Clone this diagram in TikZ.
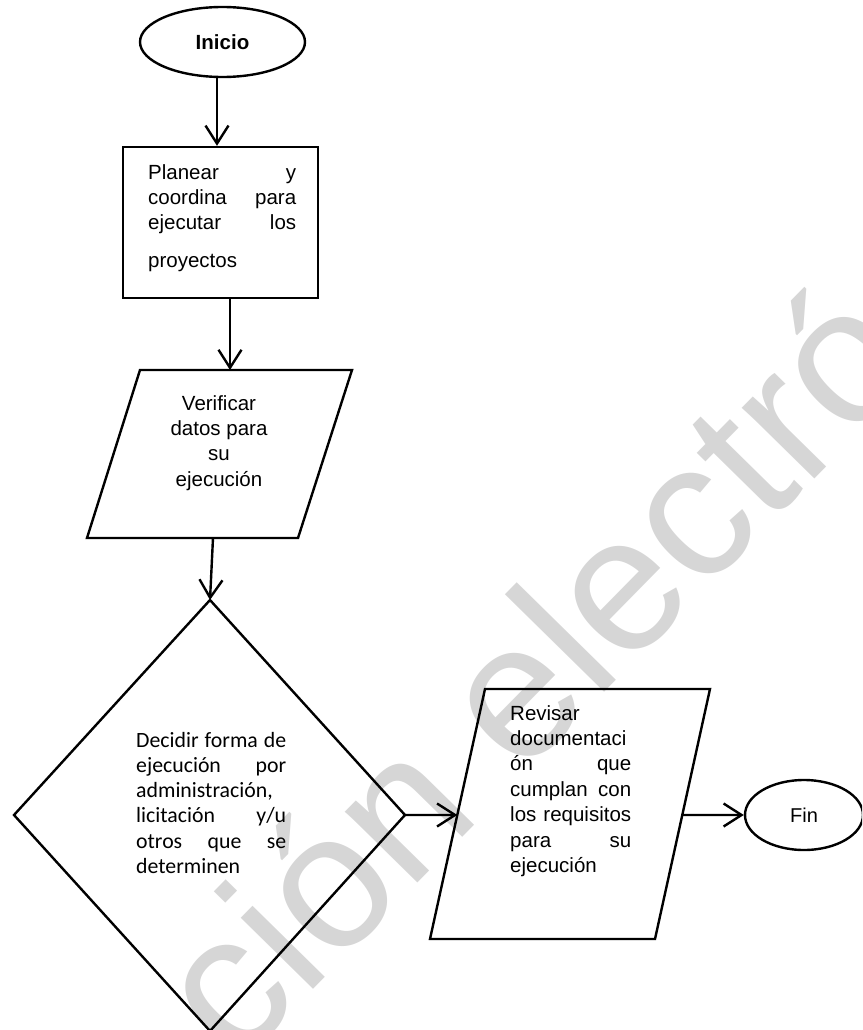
\documentclass[tikz,border=0pt]{standalone}
\usepackage{fontspec}
\setmainfont{Liberation Sans}
\newfontfamily\calfont{Carlito}
\usetikzlibrary{arrows.meta,shapes.geometric,calc}
\definecolor{wmgray}{RGB}{214,214,214}
\newcommand\jline[1]{\makebox[\linewidth][s]{#1}\par}
\begin{document}
\begin{tikzpicture}[x=1pt,y=-1pt,line width=2.4pt,
  arr/.style={-{Straight Barb[length=18pt,width=23pt]}},
  txt/.style={inner sep=0pt,font=\fontsize{20.5}{25.4}\selectfont},
  term/.style={draw,ellipse,inner sep=0pt,minimum height=70pt},
  wm/.style={text=wmgray,inner sep=0pt,anchor=base west,rotate=45.5,font=\fontsize{192}{192}\selectfont}]
\useasboundingbox (0,0) rectangle (862,1030);
\clip (0,0) rectangle (862,1030);
% watermark
\node[wm] (wmark) at (236,1068) {ción electró};
% start
\node[term,minimum width=165pt,font=\bfseries\fontsize{20.5}{24}\selectfont] (ini) at (222.5,42) {Inicio};
% process box
\node[draw,rectangle,minimum width=195pt,minimum height=151pt,inner sep=0pt] (rect) at (220.5,222.5) {};
\node[txt,anchor=base west] (rectT) at (147,179) {\parbox[t]{148pt}{\jline{Planear y}\jline{coordina para}\jline{ejecutar los}\vspace{12pt}proyectos}};
% data 1
\coordinate (p1tl) at (140,370);
\coordinate (p1tr) at (352,370);
\coordinate (p1br) at (298,538);
\coordinate (p1bl) at (87,538);
\draw (p1tl) -- (p1tr) -- (p1br) -- (p1bl) -- cycle;
\node[txt,anchor=base] (p1T) at (219,410) {\parbox[t]{150pt}{\centering Verificar\par datos para\par su\par ejecución}};
% decision
\coordinate (dt) at (210,600);
\coordinate (dr) at (405,815);
\coordinate (db) at (210,1031);
\coordinate (dl) at (14,815);
\draw (dt) -- (dr) -- (db) -- (dl) -- cycle;
\node[inner sep=0pt,anchor=base west,font=\calfont\fontsize{21.8}{25.3}\selectfont] (dT) at (135,747) {\parbox[t]{150pt}{\jline{Decidir forma de}\jline{ejecución por}administración,\par\jline{licitación y/u}\jline{otros que se}determinen}};
% data 2
\coordinate (p2tl) at (485,689);
\coordinate (p2tr) at (710,689);
\coordinate (p2br) at (655,939);
\coordinate (p2bl) at (430,939);
\draw (p2tl) -- (p2tr) -- (p2br) -- (p2bl) -- cycle;
\node[txt,anchor=base west] (p2T) at (509,720) {\parbox[t]{121pt}{Revisar\par documentaci\par\jline{ón que}\jline{cumplan con}\jline{los requisitos}\jline{para su}ejecución}};
% end
\node[term,minimum width=118pt,font=\fontsize{20}{24}\selectfont] (fin) at (804,815) {Fin};
% connectors
\coordinate (a1x) at (217,0);
\coordinate (a2x) at (230,0);
\coordinate (a3s) at (213,538);
\coordinate (p2in) at ($(p2bl)!0.496!(p2tl)$);
\coordinate (p2out) at ($(p2br)!0.496!(p2tr)$);
\draw[arr] (ini.south -| a1x) -- (rect.north -| a1x);
\draw[arr] (rect.south -| a2x) -- (p1tl -| a2x);
\draw[arr] (a3s) -- (dt);
\draw[arr] (dr) -- (p2in);
\draw[arr] (p2out) -- (fin.west);
\end{tikzpicture}
\end{document}
